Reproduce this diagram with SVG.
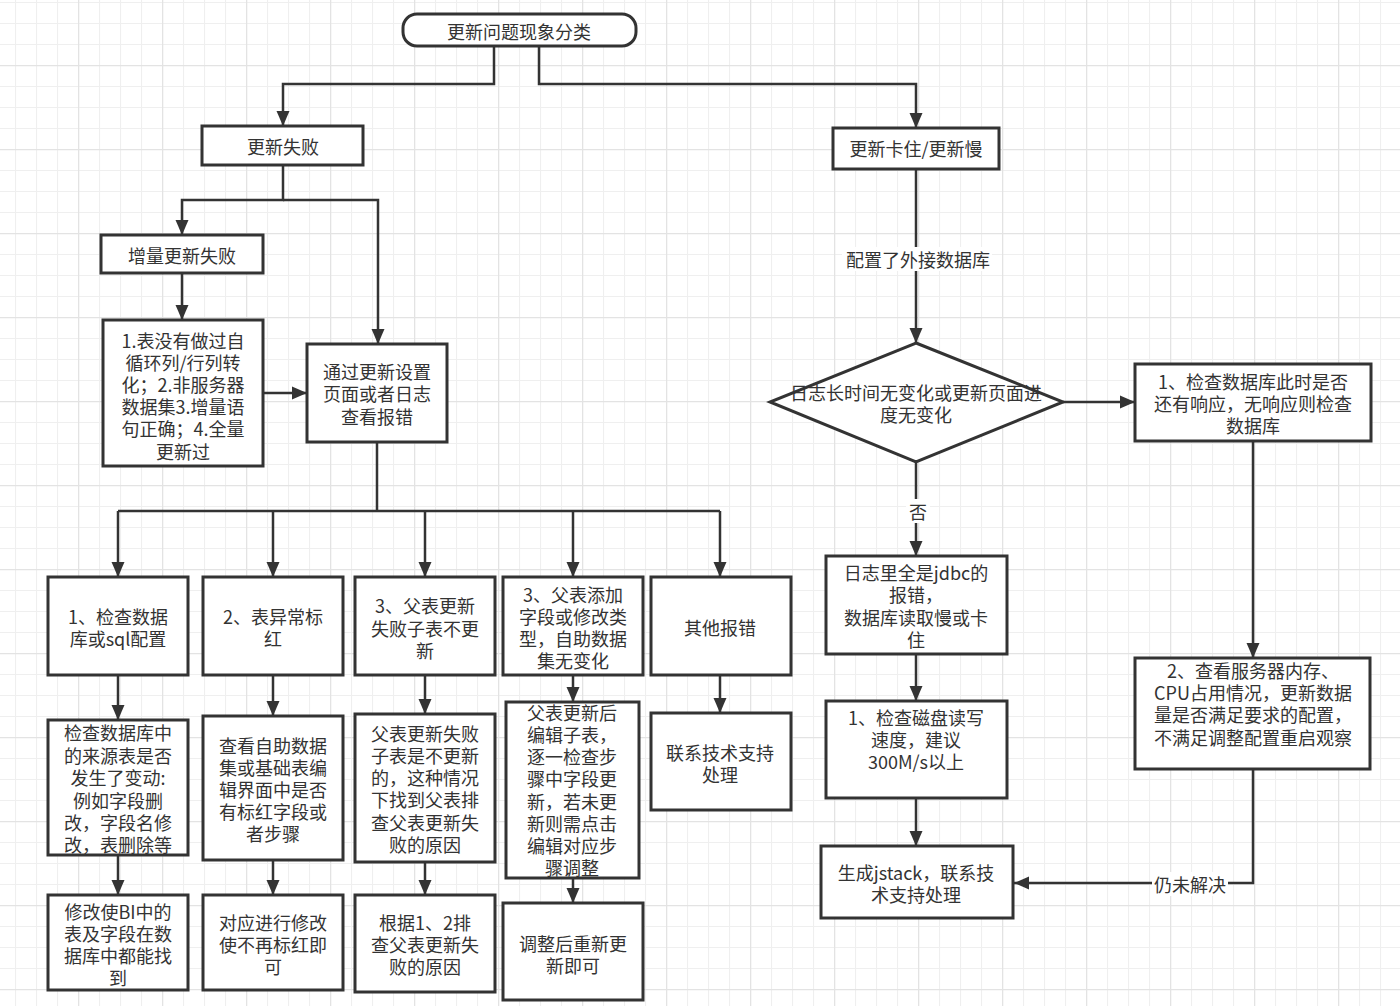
<svg xmlns="http://www.w3.org/2000/svg" width="1400" height="1006" viewBox="0 0 1400 1006">
<defs>
<pattern id="gmin" patternUnits="userSpaceOnUse" x="15" y="2" width="21" height="21"><path d="M0.5,0V21M0,0.5H21" stroke="#efefef" stroke-width="1.2" fill="none"/></pattern>
<pattern id="gmaj" patternUnits="userSpaceOnUse" x="78" y="65" width="84" height="84"><path d="M0.5,0V84M0,0.5H84" stroke="#e3e3e3" stroke-width="1.5" fill="none"/></pattern>
<marker id="arr" markerUnits="userSpaceOnUse" markerWidth="16" markerHeight="14" refX="15" refY="7" orient="auto"><path d="M0,0.5 L15,7 L0,13.5 z" fill="#333"/></marker>
<style>
.box{fill:#fff;stroke:#333;stroke-width:3}
.t{font-family:"Noto Sans CJK SC","Noto Sans",sans-serif;font-size:18px;fill:#333;text-anchor:middle;dominant-baseline:central}
.c{fill:none;stroke:#333;stroke-width:2.5;marker-end:url(#arr)}
.cn{fill:none;stroke:#333;stroke-width:2.5}
.lb{fill:#fff}
</style>
</defs>
<rect width="1400" height="1006" fill="#fff"/>
<rect width="1400" height="1006" fill="url(#gmin)"/>
<rect width="1400" height="1006" fill="url(#gmaj)"/>

<g id="connectors">
<path class="c" d="M494,46 V84 H283 V126"/>
<path class="c" d="M539,46 V84 H916 V128"/>
<path class="c" d="M283,165 V200 H182 V235"/>
<path class="c" d="M283,200 H378 V344"/>
<path class="c" d="M182,273 V320"/>
<path class="c" d="M263,393 H307"/>
<path class="cn" d="M377,442 V511 H118 M377,511 H720"/>
<path class="c" d="M118,511 V577"/>
<path class="c" d="M273,511 V577"/>
<path class="c" d="M425,511 V577"/>
<path class="c" d="M573,511 V577"/>
<path class="c" d="M720,511 V577"/>
<path class="c" d="M118,675 V720"/>
<path class="c" d="M118,855 V895"/>
<path class="c" d="M273,675 V716"/>
<path class="c" d="M273,860 V895"/>
<path class="c" d="M425,675 V714"/>
<path class="c" d="M425,862 V895"/>
<path class="c" d="M573,675 V702"/>
<path class="c" d="M573,878 V903"/>
<path class="c" d="M720,675 V713"/>
<path class="c" d="M916,169 V343"/>
<rect class="lb" x="842" y="247" width="150" height="24"/>
<text class="t" x="918" y="259">配置了外接数据库</text>
<path class="c" d="M1063,402 H1135"/>
<path class="c" d="M1253,441 V658"/>
<path class="c" d="M916,462 V556"/>
<rect class="lb" x="906" y="499" width="24" height="24"/>
<text class="t" x="918" y="511">否</text>
<path class="c" d="M916,654 V701"/>
<path class="c" d="M916,798 V846"/>
<path class="c" d="M1253,769 V883 H1014"/>
<rect class="lb" x="1152" y="872" width="76" height="24"/>
<text class="t" x="1190" y="884">仍未解决</text>
</g>

<g id="n_root"><rect class="box" x="403" y="14" width="233" height="32" rx="14"/><text class="t" x="519" y="31">更新问题现象分类</text></g>
<g id="n_fail"><rect class="box" x="202" y="126" width="161" height="39"/><text class="t" x="283" y="146">更新失败</text></g>
<g id="n_incr"><rect class="box" x="101" y="235" width="162" height="38"/><text class="t" x="182" y="255">增量更新失败</text></g>
<g id="n_incr_check"><rect class="box" x="103" y="320" width="160" height="146"/>
<text class="t" x="183" y="340">1.表没有做过自</text><text class="t" x="183" y="362">循环列/行列转</text><text class="t" x="183" y="384">化；2.非服务器</text><text class="t" x="183" y="406">数据集3.增量语</text><text class="t" x="183" y="428">句正确；4.全量</text><text class="t" x="183" y="451">更新过</text></g>
<g id="n_log"><rect class="box" x="307" y="344" width="140" height="98"/>
<text class="t" x="377" y="371">通过更新设置</text><text class="t" x="377" y="393">页面或者日志</text><text class="t" x="377" y="416">查看报错</text></g>

<g id="n_a1"><rect class="box" x="48" y="577" width="140" height="98"/><text class="t" x="118" y="616">1、检查数据</text><text class="t" x="118" y="638">库或sql配置</text></g>
<g id="n_b1"><rect class="box" x="203" y="577" width="140" height="98"/><text class="t" x="273" y="616">2、表异常标</text><text class="t" x="273" y="638">红</text></g>
<g id="n_c1"><rect class="box" x="355" y="577" width="140" height="98"/><text class="t" x="425" y="605">3、父表更新</text><text class="t" x="425" y="628">失败子表不更</text><text class="t" x="425" y="650">新</text></g>
<g id="n_d1"><rect class="box" x="503" y="577" width="140" height="98"/><text class="t" x="573" y="594">3、父表添加</text><text class="t" x="573" y="616">字段或修改类</text><text class="t" x="573" y="638">型，自助数据</text><text class="t" x="573" y="660">集无变化</text></g>
<g id="n_e1"><rect class="box" x="651" y="577" width="140" height="98"/><text class="t" x="720" y="627">其他报错</text></g>

<g id="n_a2"><rect class="box" x="48" y="720" width="140" height="135"/><text class="t" x="118" y="732">检查数据库中</text><text class="t" x="118" y="755">的来源表是否</text><text class="t" x="118" y="777">发生了变动:</text><text class="t" x="118" y="800">例如字段删</text><text class="t" x="118" y="822">改，字段名修</text><text class="t" x="118" y="844">改，表删除等</text></g>
<g id="n_a3"><rect class="box" x="48" y="895" width="140" height="95"/><text class="t" x="118" y="911">修改使BI中的</text><text class="t" x="118" y="933">表及字段在数</text><text class="t" x="118" y="955">据库中都能找</text><text class="t" x="118" y="977">到</text></g>
<g id="n_b2"><rect class="box" x="203" y="716" width="140" height="144"/><text class="t" x="273" y="745">查看自助数据</text><text class="t" x="273" y="767">集或基础表编</text><text class="t" x="273" y="789">辑界面中是否</text><text class="t" x="273" y="811">有标红字段或</text><text class="t" x="273" y="833">者步骤</text></g>
<g id="n_b3"><rect class="box" x="203" y="895" width="140" height="95"/><text class="t" x="273" y="922">对应进行修改</text><text class="t" x="273" y="944">使不再标红即</text><text class="t" x="273" y="966">可</text></g>
<g id="n_c2"><rect class="box" x="355" y="714" width="140" height="148"/><text class="t" x="425" y="733">父表更新失败</text><text class="t" x="425" y="755">子表是不更新</text><text class="t" x="425" y="777">的，这种情况</text><text class="t" x="425" y="799">下找到父表排</text><text class="t" x="425" y="822">查父表更新失</text><text class="t" x="425" y="844">败的原因</text></g>
<g id="n_c3"><rect class="box" x="355" y="895" width="140" height="97"/><text class="t" x="425" y="922">根据1、2排</text><text class="t" x="425" y="944">查父表更新失</text><text class="t" x="425" y="966">败的原因</text></g>
<g id="n_d2"><rect class="box" x="506" y="702" width="133" height="176"/><text class="t" x="572" y="712">父表更新后</text><text class="t" x="572" y="734">编辑子表，</text><text class="t" x="572" y="756">逐一检查步</text><text class="t" x="572" y="778">骤中字段更</text><text class="t" x="572" y="801">新，若未更</text><text class="t" x="572" y="823">新则需点击</text><text class="t" x="572" y="845">编辑对应步</text><text class="t" x="572" y="867">骤调整</text></g>
<g id="n_d3"><rect class="box" x="503" y="903" width="140" height="97"/><text class="t" x="573" y="943">调整后重新更</text><text class="t" x="573" y="965">新即可</text></g>
<g id="n_e2"><rect class="box" x="651" y="713" width="140" height="97"/><text class="t" x="720" y="752">联系技术支持</text><text class="t" x="720" y="774">处理</text></g>

<g id="n_slow"><rect class="box" x="833" y="128" width="166" height="41"/><text class="t" x="916" y="148">更新卡住/更新慢</text></g>
<g id="n_dia"><path class="box" d="M916,343 L1063,402 L916,462 L770,402 Z"/><text class="t" x="916" y="392">日志长时间无变化或更新页面进</text><text class="t" x="916" y="414">度无变化</text></g>
<g id="n_r1"><rect class="box" x="1135" y="364" width="236" height="77"/><text class="t" x="1253" y="381">1、检查数据库此时是否</text><text class="t" x="1253" y="403">还有响应，无响应则检查</text><text class="t" x="1253" y="425">数据库</text></g>
<g id="n_r2"><rect class="box" x="1135" y="658" width="235" height="111"/><text class="t" x="1253" y="670">2、查看服务器内存、</text><text class="t" x="1253" y="692">CPU占用情况，更新数据</text><text class="t" x="1253" y="714">量是否满足要求的配置，</text><text class="t" x="1253" y="737">不满足调整配置重启观察</text></g>
<g id="n_j1"><rect class="box" x="826" y="556" width="181" height="98"/><text class="t" x="916" y="572">日志里全是jdbc的</text><text class="t" x="916" y="594">报错，</text><text class="t" x="916" y="617">数据库读取慢或卡</text><text class="t" x="916" y="639">住</text></g>
<g id="n_j2"><rect class="box" x="826" y="701" width="181" height="97"/><text class="t" x="916" y="717">1、检查磁盘读写</text><text class="t" x="916" y="739">速度，建议</text><text class="t" x="916" y="761">300M/s以上</text></g>
<g id="n_j3"><rect class="box" x="821" y="846" width="192" height="72"/><text class="t" x="916" y="872">生成jstack，联系技</text><text class="t" x="916" y="894">术支持处理</text></g>
</svg>
